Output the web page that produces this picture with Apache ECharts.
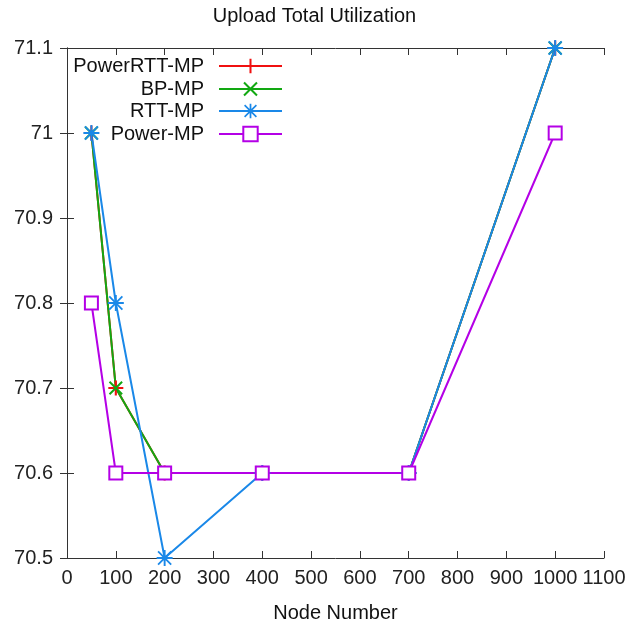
<!DOCTYPE html>
<html>
<head>
<meta charset="utf-8">
<script src="https://cdn.jsdelivr.net/npm/echarts@6/dist/echarts.min.js"></script>
<style>
html, body { margin: 0; padding: 0; background: #fff; }
#main { width: 629px; height: 628px; }
</style>
</head>
<body>
<div id="main"></div>
<script>
var nodes = [50, 100, 200, 400, 700, 1000];
var powerRttMp = [71, 70.7, 70.6, 70.6, 70.6, 71.1];
var bpMp = [71, 70.7, 70.6, 70.6, 70.6, 71.1];
var rttMp = [71, 70.8, 70.5, 70.6, 70.6, 71.1];
var powerMp = [70.8, 70.6, 70.6, 70.6, 70.6, 71];

var FONT = 'Liberation Sans';

// symbols drawn as filled shapes
var PLUS = 'path://M0,8.6H20V11.4H0Z M8.6,0H11.4V20H8.6Z';
var CROSS = 'path://M0,2L2,0L20,18L18,20Z M18,0L20,2L2,20L0,18Z';
var STAR = 'path://M0,8.8H20V11.2H0Z M8.8,0H11.2V20H8.8Z M1,2.6L2.6,1L19,17.4L17.4,19Z M17.4,1L19,2.6L2.6,19L1,17.4Z';

function pairs(ys) {
    return nodes.map(function (x, i) { return [x, ys[i]]; });
}

var chart = echarts.init(document.getElementById('main'));

function makeSeries(name, ys, color, symbol, size) {
    return {
        name: name,
        type: 'line',
        data: pairs(ys),
        symbol: symbol,
        symbolSize: size,
        showAllSymbol: true,
        animation: false,
        lineStyle: {color: color, width: 2},
        itemStyle: {color: color, borderColor: color, borderWidth: symbol === 'emptyRect' ? 2 : 0}
    };
}

function makeLegend(name, top) {
    return {
        data: [name],
        right: 346,
        top: top,
        padding: 0,
        align: 'right',
        itemWidth: 63,
        itemHeight: 18,
        textStyle: {fontFamily: FONT, fontSize: 20, color: '#111', lineHeight: 22, padding: [0, 10, 0, 0]}
    };
}

var option = {
    animation: false,
    title: {
        text: 'Upload Total Utilization',
        left: 'center',
        top: 1,
        textStyle: {fontFamily: FONT, fontSize: 20, fontWeight: 'normal', color: '#111'}
    },
    legend: [
        makeLegend('PowerRTT-MP', 55),
        makeLegend('BP-MP', 78),
        makeLegend('RTT-MP', 100),
        makeLegend('Power-MP', 123)
    ],
    grid: {left: 67, right: 25, top: 48, bottom: 69},
    xAxis: [{
        type: 'value',
        min: 0, max: 1100, interval: 100,
        name: 'Node Number',
        nameLocation: 'middle',
        nameGap: 45,
        nameTextStyle: {fontFamily: FONT, fontSize: 20, color: '#111'},
        axisLine: {lineStyle: {color: '#333', width: 1}},
        axisTick: {inside: true, length: 7, lineStyle: {color: '#333'}},
        axisLabel: {
            margin: 10, fontFamily: FONT, fontSize: 20, color: '#222',
            formatter: function (v) { return String(v); }
        },
        splitLine: {show: false}
    }, {
        type: 'value',
        position: 'top',
        min: 0, max: 1100, interval: 100,
        axisLine: {lineStyle: {color: '#333', width: 1}},
        axisTick: {inside: true, length: 7, lineStyle: {color: '#333'}},
        axisLabel: {show: false},
        splitLine: {show: false}
    }],
    yAxis: [{
        type: 'value',
        min: 70.5, max: 71.1, interval: 0.1,
        axisLine: {show: true, lineStyle: {color: '#333', width: 1}},
        axisTick: {show: true, inside: true, length: 7, lineStyle: {color: '#333'}},
        axisLabel: {margin: 14, fontFamily: FONT, fontSize: 20, color: '#222'},
        splitLine: {show: false}
    }, {
        type: 'value',
        position: 'right',
        min: 70.5, max: 71.1, interval: 0.1,
        axisLine: {show: true, lineStyle: {color: '#333', width: 1}},
        axisTick: {show: true, inside: true, length: 7, lineStyle: {color: '#333'}},
        axisLabel: {show: false},
        splitLine: {show: false}
    }],
    series: [
        makeSeries('PowerRTT-MP', powerRttMp, '#f01010', PLUS, 15),
        makeSeries('BP-MP', bpMp, '#12a812', CROSS, 14),
        makeSeries('RTT-MP', rttMp, '#1a88e8', STAR, 16),
        makeSeries('Power-MP', powerMp, '#b400e6', 'emptyRect', 13)
    ]
};

chart.setOption(option);
</script>
</body>
</html>
